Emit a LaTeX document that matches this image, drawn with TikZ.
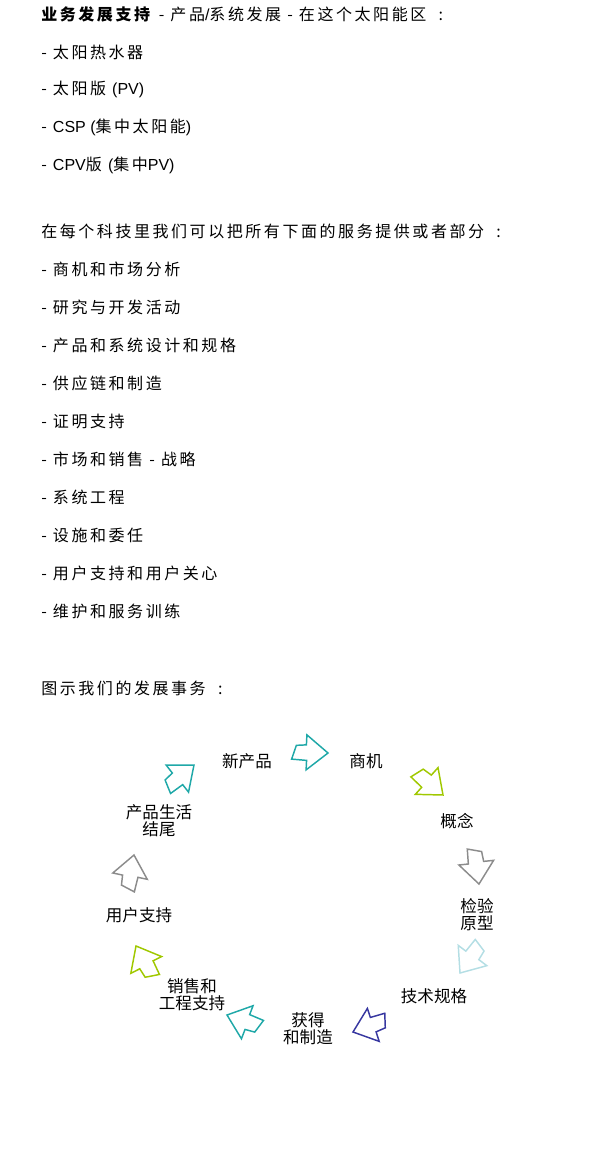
\documentclass[tikz,border=0pt]{standalone}
\usepackage{fontspec}
\setmainfont{Noto Sans CJK SC}[LetterSpace=16]
\newfontfamily\lblfont{Noto Sans CJK SC}
\newfontfamily\latfont{Liberation Sans}
\newcommand{\lat}[1]{{\latfont #1}}
\definecolor{arrteal}{RGB}{31,168,168}
\definecolor{arrlime}{RGB}{160,200,0}
\definecolor{arrgray}{RGB}{140,140,140}
\definecolor{arrpale}{RGB}{180,222,228}
\definecolor{arrindigo}{RGB}{55,55,160}
\tikzset{
  txt/.style={anchor=west, inner sep=0.75pt, font=\fontsize{12}{14}\selectfont},
  lbl/.style={inner sep=0.75pt, align=center, font=\lblfont\fontsize{12.4}{12.8}\selectfont},
  cyclearrow/.pic={
    \draw [line width=1.1pt, line join=miter] (0,0) -- (-21,-18) -- (-21,-8.5) -- (-36,-8) -- (-32,6) -- (-22,7) -- (-22,17) -- cycle ;
  }
}
\begin{document}
\begin{tikzpicture}[x=0.75pt,y=0.75pt,yscale=-1,xscale=1]
\useasboundingbox (0,0) rectangle (610,1165);

% Text Node
\node [txt] (head) at (40,14) {\textbf{业务发展支持} - 产品\lat{/}系统发展 - 在这个太阳能区\ \ :};
\node [txt] (solA) at (40,52) {- 太阳热水器};
\node [txt] (solB) at (40,89) {- 太阳版 \lat{(PV)}};
\node [txt] (solC) at (40,127) {- \lat{CSP (}集中太阳能\lat{)}};
\node [txt] (solD) at (40,165) {- \lat{CPV}版 \lat{(}集中\lat{PV)}};

% Text Node
\node [txt] (intro) at (40,231) {在每个科技里我们可以把所有下面的服务提供或者部分\ \ :};
\node [txt] (srvA) at (40,269) {- 商机和市场分析};
\node [txt] (srvB) at (40,307) {- 研究与开发活动};
\node [txt] (srvC) at (40,345) {- 产品和系统设计和规格};
\node [txt] (srvD) at (40,383) {- 供应链和制造};
\node [txt] (srvE) at (40,421) {- 证明支持};
\node [txt] (srvF) at (40,459) {- 市场和销售 - 战略};
\node [txt] (srvG) at (40,497) {- 系统工程};
\node [txt] (srvH) at (40,535) {- 设施和委任};
\node [txt] (srvI) at (40,573) {- 用户支持和用户关心};
\node [txt] (srvJ) at (40,611) {- 维护和服务训练};

% Text Node
\node [txt] (chart) at (40,688) {图示我们的发展事务\ \ :};

% Text Node
\node [lbl] (newprod) at (247,761) {新产品};
\node [lbl] (opport) at (366,761) {商机};
\node [lbl] (concept) at (457,821) {概念};
\node [lbl] (proto) at (477,915) {检验\\原型};
\node [lbl] (spec) at (434,996) {技术规格};
\node [lbl] (manuf) at (308,1029) {获得\\和制造};
\node [lbl] (sales) at (192,995) {销售和\\工程支持};
\node [lbl] (support) at (139,915) {用户支持};
\node [lbl] (endlife) at (159,821) {产品生活\\结尾};

%Shape: Arrow
\pic [color=arrteal, rotate=-3] at (328,753) {cyclearrow};
%Shape: Arrow
\pic [color=arrlime, rotate=-42] at (443,795) {cyclearrow};
%Shape: Arrow
\pic [color=arrgray, rotate=-84] at (479,884) {cyclearrow};
%Shape: Arrow
\pic [color=arrpale, rotate=-127] at (460,973) {cyclearrow};
%Shape: Arrow
\pic [color=arrindigo, rotate=-162] at (353,1032) {cyclearrow};
%Shape: Arrow
\pic [color=arrteal, rotate=-201] at (227,1015) {cyclearrow};
%Shape: Arrow
\pic [color=arrlime, rotate=-243] at (136,946) {cyclearrow};
%Shape: Arrow
\pic [color=arrgray, rotate=-282] at (134,855) {cyclearrow};
%Shape: Arrow
\pic [color=arrteal, rotate=-322] at (194,765) {cyclearrow};

\end{tikzpicture}
\end{document}
